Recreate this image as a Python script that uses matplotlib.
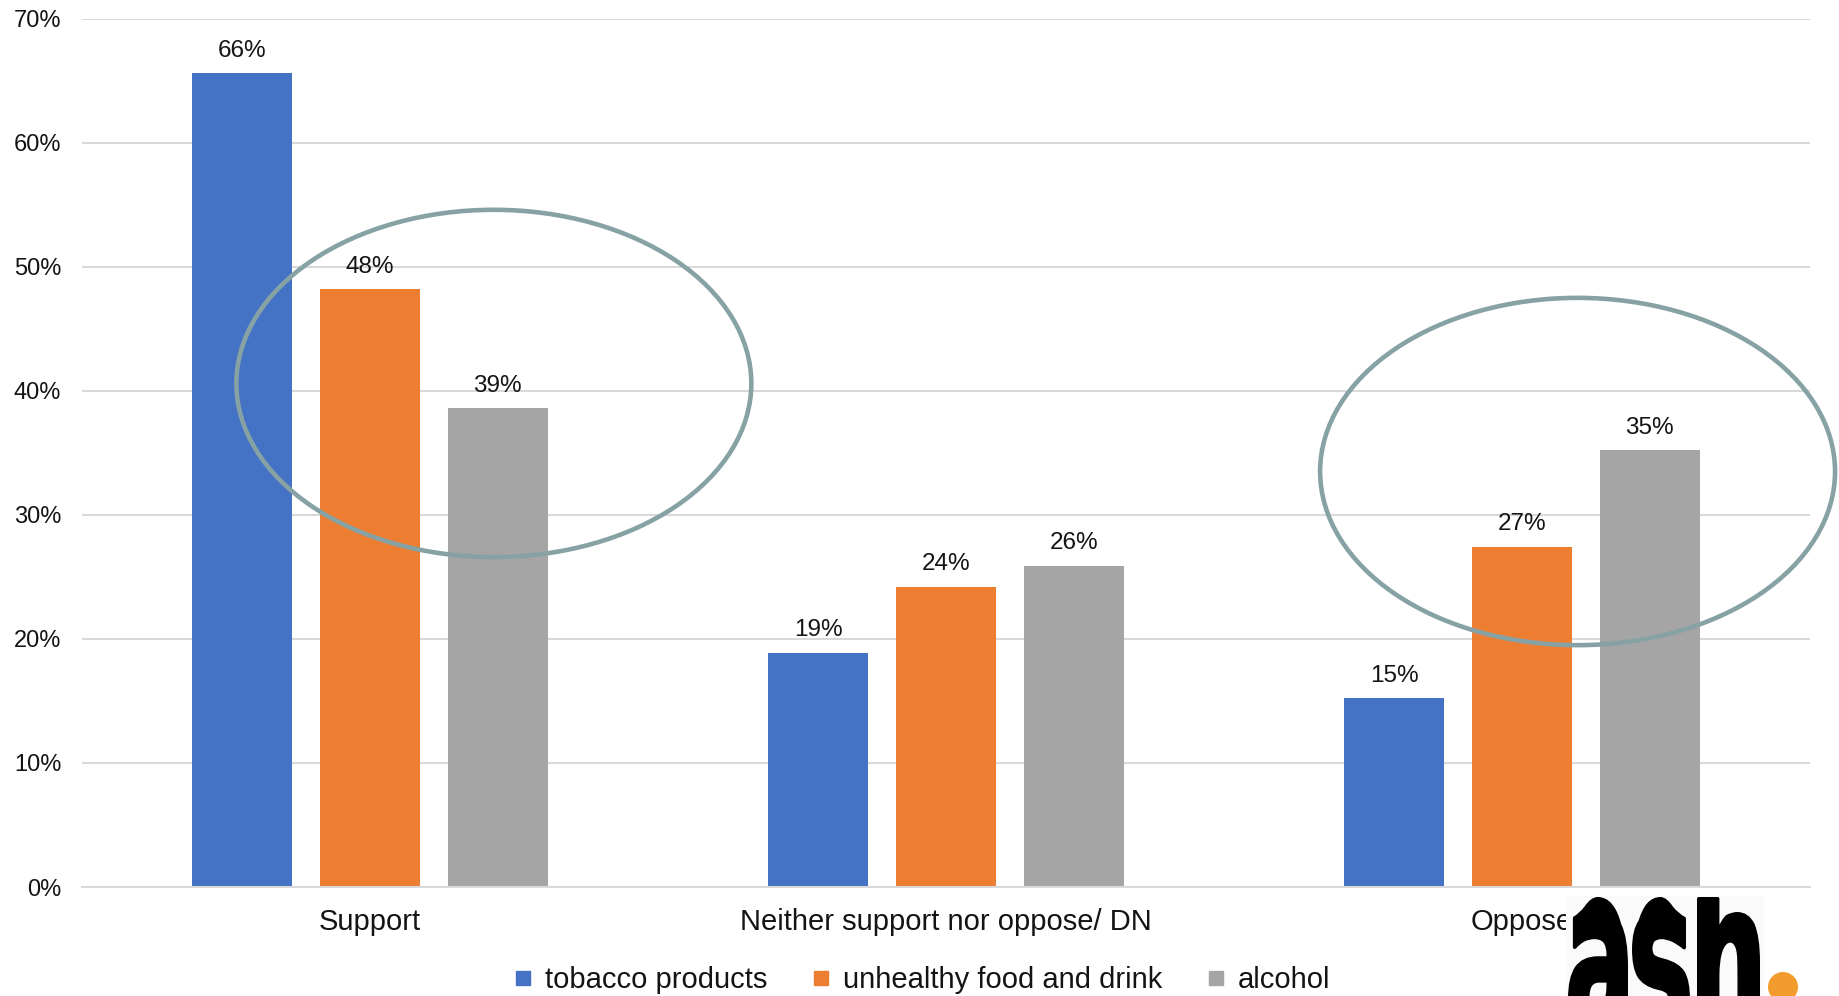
import numpy as np
import matplotlib
matplotlib.use("Agg")
import matplotlib.pyplot as plt
from matplotlib.patches import Ellipse, Circle, Rectangle, PathPatch
from matplotlib.lines import Line2D
from matplotlib.textpath import TextPath
from matplotlib.font_manager import FontProperties
from matplotlib.path import Path

# Survey responses (% of respondents)
categories = ["Support", "Neither support nor oppose/ DN", "Oppose"]
series_names = ["tobacco products", "unhealthy food and drink", "alcohol"]
tobacco = [65.6, 18.9, 15.2]
food = [48.2, 24.2, 27.4]
alcohol = [38.6, 25.9, 35.2]
y_ticks = [0, 10, 20, 30, 40, 50, 60, 70]

colors = ["#4472C4", "#ED7D31", "#A5A5A5"]
text_color = "#141414"
grid_color = "#D9D9D9"
ring_color = "#87A2A4"

plt.rcParams["font.family"] = ["Liberation Sans", "DejaVu Sans"]

W, H, DPI = 1839, 996, 100
fig = plt.figure(figsize=(W / DPI, H / DPI), dpi=DPI)
ax = fig.add_axes([82 / W, 1 - 887 / H, (1810 - 82) / W, (887 - 18.8) / H])

x = np.arange(len(categories))
bar_w = 0.173
step = 0.222
for i, vals in enumerate([tobacco, food, alcohol]):
    pos = x + (i - 1) * step
    bars = ax.bar(pos, vals, width=bar_w, color=colors[i], zorder=2,
                  label=series_names[i])
    for b, v in zip(bars, vals):
        ax.annotate(f"{v:.0f}%", (b.get_x() + b.get_width() / 2, v),
                    xytext=(0, 12), textcoords="offset points",
                    ha="center", va="baseline", fontsize=17.5, color=text_color)

ax.set_xlim(-0.5, 2.5)
ax.set_ylim(0, 70)
ax.set_yticks(y_ticks)
ax.set_yticklabels([f"{t}%" for t in y_ticks])
ax.set_xticks(x)
ax.set_xticklabels(categories)
ax.tick_params(axis="y", length=0, pad=15, labelsize=17, labelcolor=text_color)
ax.tick_params(axis="x", length=0, pad=15, labelsize=21, labelcolor=text_color)
ax.grid(axis="y", color=grid_color, linewidth=1.5, zorder=0)
for s in ["top", "right", "left"]:
    ax.spines[s].set_visible(False)
ax.spines["bottom"].set_color(grid_color)
ax.spines["bottom"].set_linewidth(1.5)

# Rings highlighting the food and alcohol bars
for cx, cy in [(0.215, 40.6), (2.0965, 33.5)]:
    ax.add_patch(Ellipse((cx, cy), 0.894, 28.0, fill=False, edgecolor=ring_color,
                         linewidth=3.3, zorder=3, clip_on=False))

handles = [Line2D([], [], linestyle="none", marker="s", markersize=10.5,
                  markerfacecolor=c, markeredgecolor=c) for c in colors]
fig.legend(handles, series_names, loc="center", bbox_to_anchor=(923 / W, 1 - 980 / H),
           ncol=3, frameon=False, fontsize=21, handlelength=0.5, handletextpad=0.5,
           columnspacing=1.6, labelcolor=text_color)

# "ash." logo in the bottom-right corner, drawn in figure pixel coordinates
lax = fig.add_axes([0, 0, 1, 1], zorder=5)
lax.set_xlim(0, W)
lax.set_ylim(H, 0)
lax.axis("off")
lax.add_patch(Rectangle((1566, 896), 198, 110, facecolor="#fafafa", edgecolor="none"))

fp = FontProperties(family="DejaVu Sans", weight="bold")
ref_x = TextPath((0, 0), "x", size=100, prop=fp).get_extents()
x_height = ref_x.y1
stroke = 3.5  # extra outline weight in pixels
baseline_px, xtop_px, asc_px = 1035, 913 + stroke / 2, 897 + stroke / 2
letters = [("a", 1568, 1628), ("s", 1632, 1690), ("h", 1697, 1760)]
for ch, x0, x1 in letters:
    x0, x1 = x0 + stroke / 2, x1 - stroke / 2
    tp = TextPath((0, 0), ch, size=100, prop=fp)
    verts = tp.vertices.copy()
    ext = tp.get_extents()
    asc = max(ext.y1, x_height + 1)
    vx = x0 + (verts[:, 0] - ext.x0) / (ext.x1 - ext.x0) * (x1 - x0)
    vy = np.where(
        verts[:, 1] <= x_height,
        baseline_px - verts[:, 1] / x_height * (baseline_px - xtop_px),
        xtop_px - (verts[:, 1] - x_height) / (asc - x_height) * (xtop_px - asc_px),
    )
    path = Path(np.column_stack([vx, vy]), tp.codes)
    lax.add_patch(PathPatch(path, facecolor="black", edgecolor="black",
                            linewidth=stroke * 72 / DPI, joinstyle="round"))
lax.add_patch(Circle((1783, 987), 15, facecolor="#F39C2E", edgecolor="none"))

fig.savefig("out.png", dpi=DPI, facecolor="white")
